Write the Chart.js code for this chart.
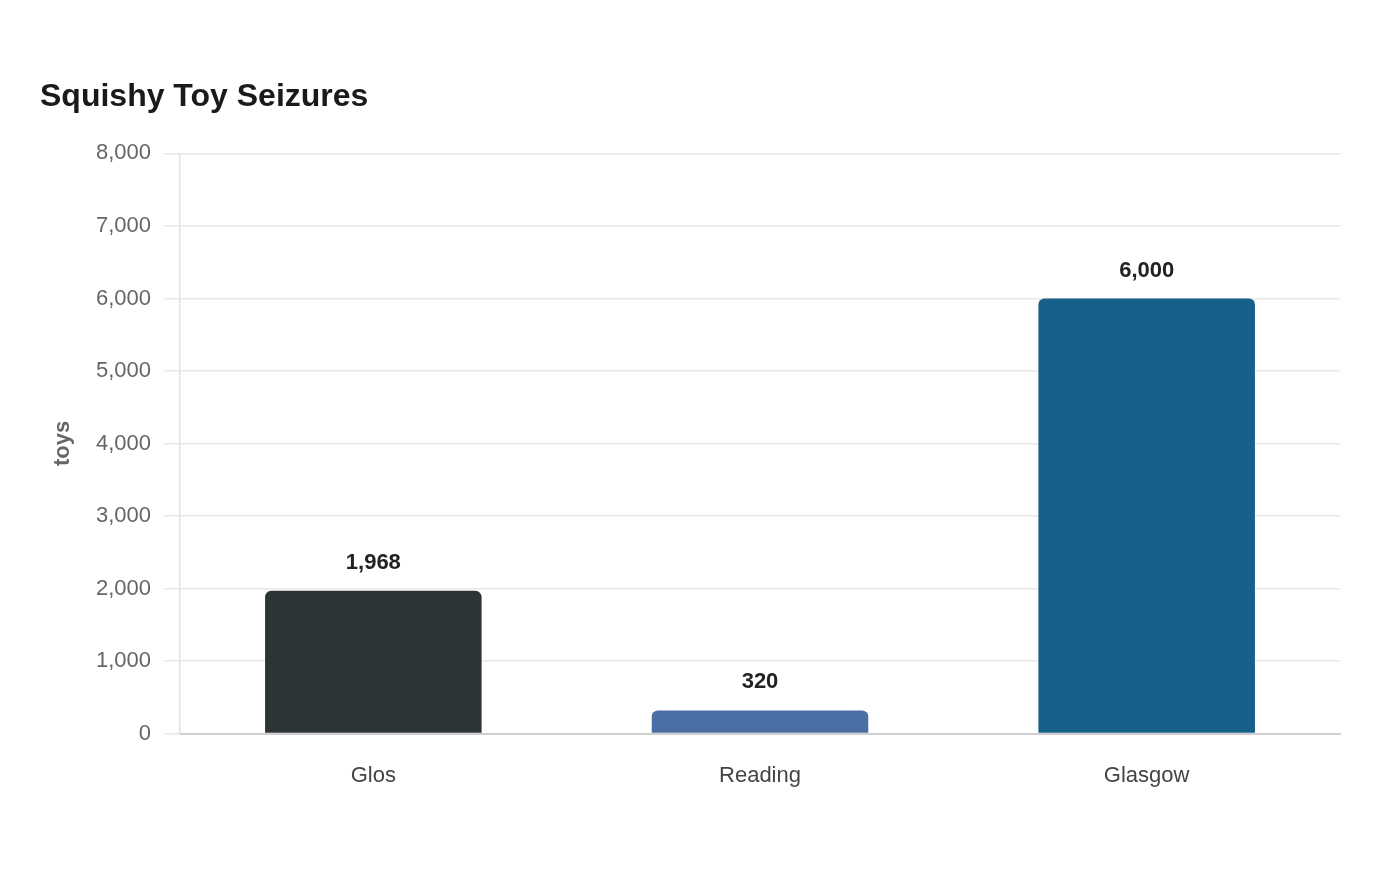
<!DOCTYPE html>
<html>
<head>
<meta charset="utf-8">
<script src="https://cdn.jsdelivr.net/npm/chart.js@4.4.1/dist/chart.umd.min.js"></script>
<style>
html,body{margin:0;padding:0;background:#fff;}
#wrap{width:1400px;height:880px;position:relative;}
</style>
</head>
<body>
<div id="wrap"><canvas id="c" width="1400" height="880"></canvas></div>
<script>
const categories = ["Glos", "Reading", "Glasgow"];
const seizures = [1968, 320, 6000];
const barColors = ["#2d3436", "#4a6fa5", "#17608a"];
const yTicks = [0, 1000, 2000, 3000, 4000, 5000, 6000, 7000, 8000];
const chartTitle = "Squishy Toy Seizures";
const yTitle = "toys";

const FONT = "'Liberation Sans', Arial, Helvetica, sans-serif";

const valueLabels = {
  id: 'valueLabels',
  afterDatasetsDraw(chart) {
    const ctx = chart.ctx;
    const meta = chart.getDatasetMeta(0);
    ctx.save();
    ctx.font = "bold 22px " + FONT;
    ctx.fillStyle = "#222";
    ctx.textAlign = "center";
    ctx.textBaseline = "middle";
    meta.data.forEach((bar, i) => {
      ctx.fillText(seizures[i].toLocaleString('en-US'), bar.x, bar.y - 28);
    });
    ctx.restore();
  }
};

new Chart(document.getElementById('c'), {
  type: 'bar',
  data: {
    labels: categories,
    datasets: [{
      data: seizures,
      backgroundColor: barColors,
      borderRadius: {topLeft: 6, topRight: 6, bottomLeft: 0, bottomRight: 0},
      borderSkipped: false,
      barPercentage: 0.8,
      categoryPercentage: 0.7
    }]
  },
  options: {
    responsive: false,
    animation: false,
    layout: {padding: {left: 40, right: 60, top: 0, bottom: 70}},
    plugins: {
      legend: {display: false},
      tooltip: {enabled: false},
      title: {
        display: true,
        text: chartTitle,
        align: 'start',
        color: '#1a1a1a',
        font: {family: FONT, size: 32, weight: 'bold'},
        padding: {top: 78, bottom: 37}
      }
    },
    scales: {
      x: {
        grid: {display: false},
        border: {display: true, color: '#d0d0d0', width: 2},
        ticks: {color: '#444', font: {family: FONT, size: 22}, padding: 21}
      },
      y: {
        min: 0,
        max: 8000,
        afterBuildTicks(scale) { scale.ticks = yTicks.map(v => ({value: v})); },
        afterFit(scale) { scale.width = 140; },
        grid: {color: '#e8e8e8', lineWidth: 1.5, tickLength: 16, tickColor: '#e8e8e8'},
        border: {display: true, color: '#e0e0e0', width: 1.5},
        ticks: {
          color: '#666',
          font: {family: FONT, size: 22},
          padding: 13,
          callback: v => Number(v).toLocaleString('en-US')
        },
        title: {
          display: true,
          text: yTitle,
          color: '#666',
          font: {family: FONT, size: 22, weight: 'bold'},
          padding: {top: 10, bottom: 0}
        }
      }
    }
  },
  plugins: [valueLabels]
});
</script>
</body>
</html>
